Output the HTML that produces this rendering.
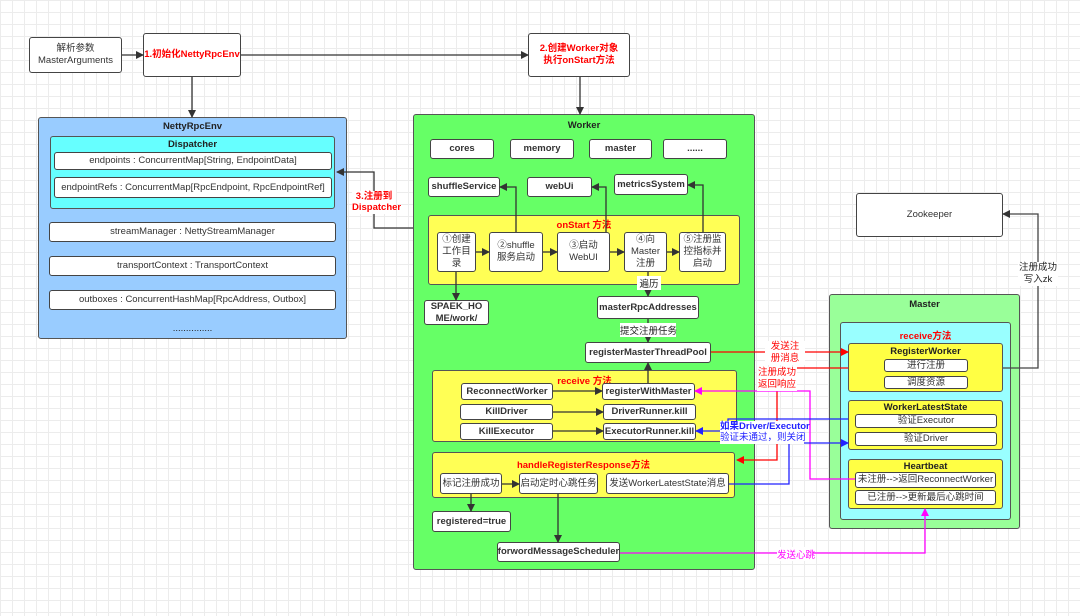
<!DOCTYPE html>
<html><head><meta charset="utf-8"><style>
body{margin:0;width:1080px;height:616px;overflow:hidden;position:relative;font-family:"Liberation Sans","Noto Sans CJK SC",sans-serif;
background-color:#fff;background-image:linear-gradient(#ececec 1px,transparent 1px),linear-gradient(90deg,#ececec 1px,transparent 1px);background-size:12px 12px;}
.b{position:absolute;box-sizing:border-box;border:1.8px solid #444;border-radius:3px;background:#fff;display:flex;align-items:center;justify-content:center;text-align:center;font-size:9.5px;font-weight:bold;color:#333;line-height:1.25;}
.c{position:absolute;box-sizing:border-box;border:1.8px solid #555;border-radius:3px;}
.t{position:absolute;font-size:9.5px;font-weight:bold;color:#222;text-align:center;white-space:nowrap;}
.r{color:#f00}
.n{font-weight:normal}
svg{position:absolute;left:0;top:0}
</style></head><body>
<div class="b n" style="left:29px;top:37px;width:93px;height:36px">解析参数<br>MasterArguments</div>
<div class="b r" style="left:143px;top:33px;width:98px;height:44px;color:#f00">1.初始化NettyRpcEnv</div>
<div class="b" style="left:528px;top:33px;width:102px;height:44px;color:#f00">2.创建Worker对象<br>执行onStart方法</div>

<div class="c" style="left:38px;top:117px;width:309px;height:222px;background:#99ccff"></div>
<div class="t" style="left:38px;top:121px;width:309px">NettyRpcEnv</div>
<div class="c" style="left:50px;top:136px;width:285px;height:73px;background:#66ffff"></div>
<div class="t" style="left:50px;top:139px;width:285px">Dispatcher</div>
<div class="b n" style="left:54px;top:152px;width:278px;height:18px">endpoints : ConcurrentMap[String, EndpointData]</div>
<div class="b n" style="left:54px;top:177px;width:278px;height:21px">endpointRefs : ConcurrentMap[RpcEndpoint, RpcEndpointRef]</div>
<div class="b n" style="left:49px;top:222px;width:287px;height:20px">streamManager : NettyStreamManager</div>
<div class="b n" style="left:49px;top:256px;width:287px;height:20px">transportContext : TransportContext</div>
<div class="b n" style="left:49px;top:290px;width:287px;height:20px">outboxes : ConcurrentHashMap[RpcAddress, Outbox]</div>
<div class="t n" style="left:38px;top:323px;width:309px">...............</div>

<div class="c" style="left:413px;top:114px;width:342px;height:456px;background:#66ff66"></div>
<div class="t" style="left:413px;top:120px;width:342px">Worker</div>
<div class="b" style="left:430px;top:139px;width:64px;height:20px">cores</div>
<div class="b" style="left:510px;top:139px;width:64px;height:20px">memory</div>
<div class="b" style="left:589px;top:139px;width:63px;height:20px">master</div>
<div class="b" style="left:663px;top:139px;width:64px;height:20px">......</div>
<div class="b" style="left:428px;top:177px;width:72px;height:20px">shuffleService</div>
<div class="b" style="left:527px;top:177px;width:65px;height:20px">webUi</div>
<div class="b" style="left:614px;top:174px;width:74px;height:21px">metricsSystem</div>
<div class="c" style="left:428px;top:215px;width:312px;height:70px;background:#ffff55"></div>
<div class="t r" style="left:428px;top:217px;width:312px">onStart 方法</div>
<div class="b n" style="left:437px;top:232px;width:39px;height:40px">①创建<br>工作目<br>录</div>
<div class="b n" style="left:489px;top:232px;width:54px;height:40px">②shuffle<br>服务启动</div>
<div class="b n" style="left:557px;top:232px;width:53px;height:40px">③启动<br>WebUI</div>
<div class="b n" style="left:624px;top:232px;width:43px;height:40px">④向<br>Master<br>注册</div>
<div class="b n" style="left:679px;top:232px;width:47px;height:40px">⑤注册监<br>控指标并<br>启动</div>
<div class="b" style="left:424px;top:300px;width:65px;height:25px">SPAEK_HO<br>ME/work/</div>
<div class="b" style="left:597px;top:296px;width:102px;height:23px">masterRpcAddresses</div>
<div class="b" style="left:585px;top:342px;width:126px;height:21px">registerMasterThreadPool</div>
<div class="c" style="left:432px;top:370px;width:305px;height:72px;background:#ffff55"></div>
<div class="t r" style="left:432px;top:373px;width:305px">receive 方法</div>
<div class="b" style="left:461px;top:383px;width:92px;height:17px">ReconnectWorker</div>
<div class="b" style="left:602px;top:383px;width:93px;height:17px">registerWithMaster</div>
<div class="b" style="left:460px;top:404px;width:93px;height:16px">KillDriver</div>
<div class="b" style="left:603px;top:404px;width:93px;height:16px">DriverRunner.kill</div>
<div class="b" style="left:460px;top:423px;width:93px;height:17px">KillExecutor</div>
<div class="b" style="left:603px;top:423px;width:93px;height:17px">ExecutorRunner.kill</div>
<div class="c" style="left:432px;top:452px;width:303px;height:46px;background:#ffff55"></div>
<div class="t r" style="left:432px;top:457px;width:303px">handleRegisterResponse方法</div>
<div class="b n" style="left:440px;top:473px;width:62px;height:21px">标记注册成功</div>
<div class="b n" style="left:519px;top:473px;width:79px;height:21px">启动定时心跳任务</div>
<div class="b n" style="left:606px;top:473px;width:123px;height:21px">发送WorkerLatestState消息</div>
<div class="b" style="left:432px;top:511px;width:79px;height:21px">registered=true</div>
<div class="b" style="left:497px;top:542px;width:123px;height:20px">forwordMessageScheduler</div>

<div class="b n" style="left:856px;top:193px;width:147px;height:44px">Zookeeper</div>
<div class="c" style="left:829px;top:294px;width:191px;height:235px;background:#99ff99"></div>
<div class="t" style="left:829px;top:299px;width:191px">Master</div>
<div class="c" style="left:840px;top:322px;width:171px;height:198px;background:#99ffff"></div>
<div class="t r" style="left:840px;top:328px;width:171px">receive方法</div>
<div class="c" style="left:848px;top:343px;width:155px;height:49px;background:#ffff44"></div>
<div class="t" style="left:848px;top:346px;width:155px">RegisterWorker</div>
<div class="b n" style="left:884px;top:359px;width:84px;height:13px">进行注册</div>
<div class="b n" style="left:884px;top:376px;width:84px;height:13px">调度资源</div>
<div class="c" style="left:848px;top:400px;width:155px;height:50px;background:#ffff44"></div>
<div class="t" style="left:848px;top:402px;width:155px">WorkerLatestState</div>
<div class="b n" style="left:855px;top:414px;width:142px;height:14px">验证Executor</div>
<div class="b n" style="left:855px;top:432px;width:142px;height:14px">验证Driver</div>
<div class="c" style="left:848px;top:459px;width:155px;height:50px;background:#ffff44"></div>
<div class="t" style="left:848px;top:461px;width:155px">Heartbeat</div>
<div class="b n" style="left:855px;top:472px;width:141px;height:16px">未注册-->返回ReconnectWorker</div>
<div class="b n" style="left:855px;top:490px;width:141px;height:15px">已注册-->更新最后心跳时间</div>

<svg width="1080" height="616">
<defs>
<marker id="k" markerWidth="8" markerHeight="8" refX="7" refY="4" orient="auto" markerUnits="userSpaceOnUse"><path d="M0,0L8,4L0,8z" fill="#333"/></marker>
<marker id="rd" markerWidth="8" markerHeight="8" refX="7" refY="4" orient="auto" markerUnits="userSpaceOnUse"><path d="M0,0L8,4L0,8z" fill="#f00"/></marker>
<marker id="bl" markerWidth="8" markerHeight="8" refX="7" refY="4" orient="auto" markerUnits="userSpaceOnUse"><path d="M0,0L8,4L0,8z" fill="#22f"/></marker>
<marker id="mg" markerWidth="8" markerHeight="8" refX="7" refY="4" orient="auto" markerUnits="userSpaceOnUse"><path d="M0,0L8,4L0,8z" fill="#f0f"/></marker>
</defs>
<g fill="none" stroke="#333" stroke-width="1.3" marker-end="url(#k)">
<path d="M122,55H143"/><path d="M241,55H528"/><path d="M192,77V117"/><path d="M580,77V114"/>
<path d="M413,228H374V172H337"/>
<path d="M476,252H489"/><path d="M543,252H557"/><path d="M610,252H624"/><path d="M667,252H679"/>
<path d="M516,232V187H500"/><path d="M606,232V187H592"/><path d="M703,232V185H688"/>
<path d="M456,272V300"/><path d="M648,272V296"/><path d="M648,319V342"/><path d="M648,383V363"/>
<path d="M553,391H602"/><path d="M553,412H603"/><path d="M553,431H603"/>
<path d="M502,484H519"/><path d="M471,494V511"/><path d="M558,494V542"/>
<path d="M1003,368H1038V214H1003" stroke="#444"/>
</g>
<g fill="none" stroke-width="1.3">
<path d="M711,352H848" stroke="#f00" marker-end="url(#rd)"/>
<path d="M848,368H777V460H737" stroke="#f00" marker-end="url(#rd)"/>
<path d="M855,479H810V391H695" stroke="#f0f" marker-end="url(#mg)"/>
<path d="M620,553H925V509" stroke="#f0f" marker-end="url(#mg)"/>
<path d="M848,419H728V431H696" stroke="#22f" marker-end="url(#bl)"/>
<path d="M729,484H789V443H848" stroke="#22f" marker-end="url(#bl)"/>
</g>
</svg>
<div class="t r" style="left:352px;top:191px;width:44px;background:#fff;line-height:1.2">3.注册到<br>Dispatcher</div>
<div class="t" style="left:637px;top:276px;width:24px;background:#fff;font-weight:normal">遍历</div>
<div class="t" style="left:620px;top:323px;width:56px;background:#fff;font-weight:normal">提交注册任务</div>
<div class="t n r" style="left:765px;top:341px;width:40px;background:#fff;line-height:1.25">发送注<br>册消息</div>
<div class="t n r" style="left:757px;top:367px;width:40px;background:#fff;line-height:1.25">注册成功<br>返回响应</div>
<div class="t" style="left:720px;top:421px;width:84px;background:#fff;color:#22f;line-height:1.2">如果Driver/Executor<br><span class="n">验证未通过，则关闭</span></div>
<div class="t n" style="left:1018px;top:262px;width:40px;background:#fff;line-height:1.25">注册成功<br>写入zk</div>
<div class="t n" style="left:777px;top:547px;width:36px;background:#fff;color:#f0f">发送心跳</div>
</body></html>
